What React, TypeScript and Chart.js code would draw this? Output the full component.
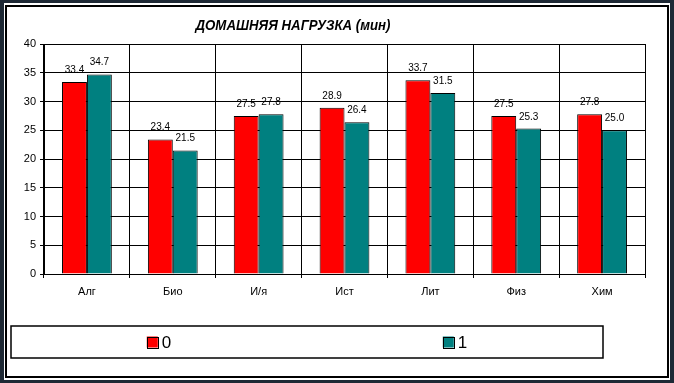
import React, { useEffect, useRef } from "react";
import { Chart, registerables } from "chart.js";

Chart.register(...registerables);

const categories = ["Алг", "Био", "И/я", "Ист", "Лит", "Физ", "Хим"];
const series0 = [33.4, 23.4, 27.5, 28.9, 33.7, 27.5, 27.8];
const series1 = [34.7, 21.5, 27.8, 26.4, 31.5, 25.3, 25.0];
const seriesLabels = ["0", "1"];
const seriesColors = ["#FF0000", "#008080"];
const titleText = "ДОМАШНЯЯ НАГРУЗКА (мин)";

const FONT = "'Liberation Sans', Arial, sans-serif";

const titlePlugin = {
  id: "customTitle",
  afterDraw(chart: any) {
    const ctx = chart.ctx;
    ctx.save();
    ctx.font = `italic bold 15px ${FONT}`;
    ctx.fillStyle = "#000";
    ctx.textAlign = "center";
    ctx.textBaseline = "middle";
    const w = ctx.measureText(titleText).width;
    const sx = 195 / w;
    ctx.translate(293, 26);
    ctx.scale(sx, 1);
    ctx.fillText(titleText, 0, 0);
    ctx.restore();
  },
};

const valueLabelPlugin = {
  id: "valueLabels",
  afterDatasetsDraw(chart: any) {
    const ctx = chart.ctx;
    ctx.save();
    ctx.font = `10px ${FONT}`;
    ctx.fillStyle = "#000";
    ctx.textAlign = "center";
    ctx.textBaseline = "alphabetic";
    chart.data.datasets.forEach((ds: any, i: number) => {
      const meta = chart.getDatasetMeta(i);
      meta.data.forEach((el: any, j: number) => {
        ctx.fillText(Number(ds.data[j]).toFixed(1), el.x, el.y - 9);
      });
    });
    ctx.restore();
  },
};

const boxLegendPlugin = {
  id: "boxLegend",
  afterDraw(chart: any) {
    const ctx = chart.ctx;
    const left = 11, top = 326, width = 592, height = 32;
    ctx.save();
    ctx.strokeStyle = "#000";
    ctx.lineWidth = 1.5;
    ctx.strokeRect(left, top, width, height);
    const n = chart.data.datasets.length;
    ctx.font = `17px ${FONT}`;
    ctx.textBaseline = "middle";
    ctx.textAlign = "left";
    const sq = 11, gap = 4;
    chart.data.datasets.forEach((ds: any, i: number) => {
      const cx = left + (width * (i + 0.5)) / n;
      const tw = ctx.measureText(ds.label).width;
      const start = cx - (sq + gap + tw) / 2;
      const cy = top + height / 2;
      ctx.fillStyle = ds.backgroundColor;
      ctx.fillRect(start, cy - sq / 2, sq, sq);
      ctx.lineWidth = 1;
      ctx.strokeRect(Math.round(start) + 0.5, Math.round(cy - sq / 2) + 0.5, sq, sq);
      ctx.fillStyle = "#000";
      ctx.fillText(ds.label, start + sq + gap, cy + 1);
    });
    ctx.restore();
  },
};

export default function App() {
  const ref = useRef<HTMLCanvasElement | null>(null);
  useEffect(() => {
    if (!ref.current) return;
    const chart = new Chart(ref.current, {
      type: "bar",
      data: {
        labels: categories,
        datasets: [
          {
            label: seriesLabels[0],
            data: series0,
            backgroundColor: seriesColors[0],
            borderColor: "#000",
            borderWidth: 1,
            categoryPercentage: 0.58,
            barPercentage: 1,
          },
          {
            label: seriesLabels[1],
            data: series1,
            backgroundColor: seriesColors[1],
            borderColor: "#000",
            borderWidth: 1,
            categoryPercentage: 0.58,
            barPercentage: 1,
          },
        ],
      },
      options: {
        animation: false,
        responsive: false,
        maintainAspectRatio: false,
        layout: { padding: { left: 0, top: 44, right: 29, bottom: 0 } },
        plugins: {
          legend: { display: false },
          title: { display: false },
          tooltip: { enabled: false },
        },
        scales: {
          x: {
            grid: { color: "#000", lineWidth: 1, offset: true, tickLength: 4, drawTicks: true },
            border: { color: "#000", width: 1 },
            ticks: { color: "#000", font: { family: FONT, size: 11 }, padding: 7 },
            afterFit(scale: any) {
              scale.height = 109;
            },
          },
          y: {
            min: 0,
            max: 40,
            grid: { color: "#000", lineWidth: 1, tickLength: 4, drawTicks: true },
            border: { color: "#000", width: 1 },
            ticks: { stepSize: 5, color: "#000", font: { family: FONT, size: 11 }, padding: 4 },
            afterFit(scale: any) {
              scale.width = 44;
            },
          },
        },
      },
      plugins: [titlePlugin, valueLabelPlugin, boxLegendPlugin],
    });
    return () => chart.destroy();
  }, []);

  return (
    <div style={{ position: "fixed", left: 0, top: 0, width: 674, height: 383, background: "#1e2935" }}>
      <div style={{ position: "absolute", left: 4, top: 3, width: 666, height: 377, background: "#fff" }} />
      <div
        style={{
          position: "absolute",
          left: 5,
          top: 5,
          width: 664,
          height: 373,
          border: "2px solid #000",
          boxSizing: "border-box",
        }}
      />
      <canvas ref={ref} width={674} height={383} style={{ position: "absolute", left: 0, top: 0 }} />
    </div>
  );
}
